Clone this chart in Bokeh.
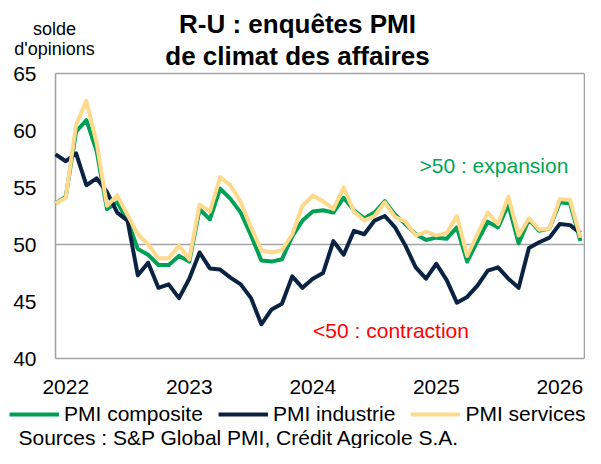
from bokeh.plotting import figure
from bokeh.models import Range1d, Label, Legend, LegendItem, FixedTicker, ColumnDataSource
from bokeh.embed import file_html
from bokeh.resources import INLINE

# Monthly data, Dec 2021 -> Mar 2026
months = ["2021-12"] + [f"{y}-{m:02d}" for y in (2022, 2023, 2024, 2025) for m in range(1, 13)] + ["2026-01", "2026-02", "2026-03"]

composite = [53.6, 54.2, 59.9, 60.9, 58.2, 53.1, 53.7, 52.1, 49.6, 49.1, 48.2, 48.2, 49.0,
             48.5, 53.1, 52.2, 54.9, 54.0, 52.8, 50.8, 48.6, 48.5, 48.7, 50.7, 52.1,
             52.9, 53.0, 52.8, 54.1, 53.0, 52.3, 52.8, 53.8, 52.6, 51.8, 50.9, 50.4,
             50.6, 50.5, 51.5, 48.5, 50.3, 52.0, 51.5, 53.5, 50.1, 52.2, 51.2, 51.4,
             53.7, 53.6, 50.3]
industrie = [57.9, 57.3, 58.0, 55.2, 55.8, 54.6, 52.8, 52.1, 47.3, 48.4, 46.2, 46.5, 45.3,
             47.0, 49.3, 47.9, 47.8, 47.1, 46.5, 45.3, 43.0, 44.3, 44.8, 47.2, 46.2,
             47.0, 47.5, 50.3, 49.1, 51.2, 50.9, 52.1, 52.5, 51.5, 49.9, 48.0, 47.0,
             48.3, 46.9, 44.9, 45.4, 46.4, 47.7, 48.0, 47.0, 46.2, 49.7, 50.2, 50.6,
             51.8, 51.7, 51.0]
services = [53.6, 54.1, 60.5, 62.6, 58.9, 53.4, 54.3, 52.6, 50.9, 50.0, 48.8, 48.8, 49.9,
            48.7, 53.5, 52.9, 55.9, 55.2, 53.7, 51.5, 49.5, 49.3, 49.5, 50.9, 53.4,
            54.3, 53.8, 53.1, 55.0, 52.9, 52.1, 52.5, 53.7, 52.4, 52.0, 50.8, 51.1,
            50.8, 51.0, 52.5, 49.0, 50.9, 52.8, 51.8, 54.2, 50.8, 52.3, 51.3, 51.4,
            54.0, 53.9, 50.6]

year_labels = ["2022", "2023", "2024", "2025", "2026"]
y_ticks = [40, 45, 50, 55, 60, 65]
threshold = 50
series_names = ["PMI composite", "PMI industrie", "PMI services"]

idx = list(range(len(months)))
year_ticks = [months.index(f"{y}-01") for y in year_labels]

src = ColumnDataSource(dict(x=idx, comp=composite, ind=industrie, serv=services))

GREEN = "#00A055"
NAVY = "#0B2343"
GOLD = "#FFD98C"
GRAY = "#A3A3A3"
FONT = "Liberation Sans"

# ---- canvas layout (pixels) ----
W, H = 585, 448
BOX_L, BOX_R, BOX_T, BOX_B = 55, 584, 73, 358   # plot box inside the canvas
X_LO, X_HI = 0.0, 51.4                            # month-index range of the plot box
Y_LO, Y_HI = y_ticks[0], y_ticks[-1]

sx = (BOX_R - BOX_L) / (X_HI - X_LO)
sy = (BOX_B - BOX_T) / (Y_HI - Y_LO)
x_range = Range1d(X_LO - BOX_L / sx, X_HI + (W - BOX_R) / sx)
y_range = Range1d(Y_LO - (H - BOX_B) / sy, Y_HI + BOX_T / sy)

p = figure(width=W, height=H, output_backend="svg", toolbar_location=None,
           x_range=x_range, y_range=y_range, min_border=0)
p.xgrid.visible = False
p.ygrid.visible = False
p.outline_line_color = None

for ax in (p.xaxis[0], p.yaxis[0]):
    ax.axis_line_color = None
    ax.major_tick_line_color = None
    ax.minor_tick_line_color = None
    ax.major_label_text_font = FONT
    ax.major_label_text_font_size = "21px"
    ax.major_label_text_color = "black"

p.xaxis.ticker = FixedTicker(ticks=year_ticks)
p.xaxis.major_label_overrides = {t: l for t, l in zip(year_ticks, year_labels)}
p.xaxis.major_label_standoff = 15
p.xaxis.fixed_location = Y_LO
p.yaxis.ticker = FixedTicker(ticks=y_ticks)
p.yaxis.major_label_standoff = 13
p.yaxis.fixed_location = X_LO

# plot-area frame and the 50 threshold line
edges = [([X_LO, X_HI], [Y_HI, Y_HI]), ([X_LO, X_HI], [Y_LO, Y_LO]),
         ([X_LO, X_LO], [Y_LO, Y_HI]), ([X_HI, X_HI], [Y_LO, Y_HI])]
for ex, ey in edges:
    p.line(x=ex, y=ey, line_color=GRAY, line_width=1.6)
p.line(x=[X_LO, X_HI], y=[threshold, threshold], line_color=GRAY, line_width=1.3)

r1 = p.line("x", "comp", source=src, line_color=GREEN, line_width=4, line_join="round")
r2 = p.line("x", "ind", source=src, line_color=NAVY, line_width=4, line_join="round")
r3 = p.line("x", "serv", source=src, line_color=GOLD, line_width=4, line_join="round")

p.add_layout(Label(x=42.6, y=56.9, text=">50 : expansion", text_font=FONT, text_font_size="21px",
                   text_color="#00A651", text_align="center", text_baseline="middle"))
p.add_layout(Label(x=32.6, y=42.5, text="<50 : contraction", text_font=FONT, text_font_size="21px",
                   text_color="#FF0000", text_align="center", text_baseline="middle"))

legend = Legend(items=[LegendItem(label=n, renderers=[r]) for n, r in zip(series_names, (r1, r2, r3))],
                location=(9, 22), orientation="horizontal",
                glyph_width=50, glyph_height=20, label_height=20, label_standoff=5, spacing=15,
                padding=0, margin=0, border_line_alpha=0, background_fill_alpha=0,
                label_text_font=FONT, label_text_font_size="21px", label_text_color="black")
p.add_layout(legend)

def lab(text, x, y_top, size, color="black", bold=False, align="center"):
    # y_top: distance from the top of the canvas
    p.add_layout(Label(x=x, y=H - y_top, x_units="screen", y_units="screen", text=text,
                       text_font=FONT, text_font_size=size, text_color=color,
                       text_font_style="bold" if bold else "normal",
                       text_align=align, text_baseline="middle"))

lab("solde", 54, 28, "18px")
lab("d'opinions", 54, 48, "18px")
lab("R-U : enquêtes PMI", 297, 23, "26px", bold=True)
lab("de climat des affaires", 297, 55, "26px", bold=True)
lab("Sources : S&P Global PMI, Crédit Agricole S.A.", 18, 437, "21px", align="left")

open("out.html", "w").write(file_html(p, INLINE))
